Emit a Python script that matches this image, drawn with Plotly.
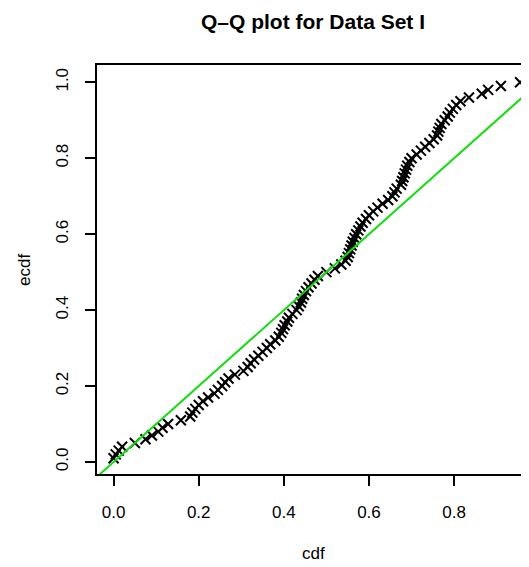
import plotly.graph_objects as go

# ecdf values (i/n) and the corresponding theoretical cdf values
ecdf_vals = [i / 100 for i in range(1, 101)]
cdf_vals = [
    0.000, 0.005, 0.012, 0.020, 0.050, 0.075, 0.090, 0.105, 0.115, 0.128,
    0.158, 0.180, 0.185, 0.192, 0.200, 0.210, 0.222, 0.237, 0.245, 0.255,
    0.262, 0.270, 0.285, 0.305, 0.315, 0.322, 0.330, 0.340, 0.350, 0.360,
    0.368, 0.380, 0.388, 0.394, 0.398, 0.402, 0.408, 0.412, 0.420, 0.430,
    0.435, 0.440, 0.443, 0.447, 0.452, 0.458, 0.465, 0.472, 0.480, 0.500,
    0.520, 0.535, 0.545, 0.550, 0.553, 0.556, 0.559, 0.562, 0.566, 0.570,
    0.575, 0.580, 0.585, 0.593, 0.600, 0.610, 0.620, 0.632, 0.645, 0.655,
    0.660, 0.665, 0.675, 0.678, 0.681, 0.684, 0.687, 0.690, 0.695, 0.700,
    0.712, 0.722, 0.732, 0.742, 0.752, 0.760, 0.763, 0.766, 0.770, 0.778,
    0.785, 0.790, 0.797, 0.805, 0.815, 0.835, 0.865, 0.880, 0.910, 0.955,
]

# reference line y = x
ref_line_x = [-0.1, 1.1]
ref_line_y = [-0.1, 1.1]

x_ticks = [0.0, 0.2, 0.4, 0.6, 0.8]
x_tick_labels = ["0.0", "0.2", "0.4", "0.6", "0.8"]
y_ticks = [0.0, 0.2, 0.4, 0.6, 0.8, 1.0]
y_tick_labels = ["0.0", "0.2", "0.4", "0.6", "0.8", "1.0"]

FONT = "Liberation Sans, Arial, Helvetica, sans-serif"

# page body has an 8px default margin; figure is sized to fill the rest
W, H = 521, 559
T, B = 57, 93
PLOT_H = H - T - B

fig = go.Figure()
fig.add_trace(go.Scatter(
    x=cdf_vals, y=ecdf_vals, mode="markers",
    marker=dict(symbol="x-thin-open", size=10, color="black",
                line=dict(color="black", width=2)),
    showlegend=False, hoverinfo="skip",
))
fig.add_trace(go.Scatter(
    x=ref_line_x, y=ref_line_y, mode="lines",
    line=dict(color="#11DD11", width=2),
    showlegend=False, hoverinfo="skip",
))

fig.update_layout(
    width=W, height=H,
    margin=dict(l=89, r=0, t=T, b=B),
    plot_bgcolor="white", paper_bgcolor="white",
    font=dict(family=FONT, size=17, color="black"),
    title=dict(text="<b>Q\u2013Q plot for Data Set I</b>", x=0.5, xref="paper",
               y=1 - 14 / H, yanchor="middle", yref="container",
               font=dict(family=FONT, size=21, color="black")),
    xaxis=dict(range=[-0.039, 0.976], tickvals=x_ticks, ticktext=x_tick_labels,
               showgrid=False, zeroline=False, showline=True, mirror=True,
               linecolor="black", linewidth=1.5, ticks="outside", ticklen=10,
               tickwidth=1.5, tickcolor="black", ticklabelstandoff=12,
               tickfont=dict(size=17)),
    yaxis=dict(range=[-0.0316, 1.0455], tickvals=y_ticks, ticktext=y_tick_labels,
               showgrid=False, zeroline=False, showline=True, mirror=False,
               linecolor="black", linewidth=1.5, ticks="outside", ticklen=10,
               tickwidth=1.5, tickcolor="black", tickangle=-90,
               ticklabelstandoff=10, tickfont=dict(size=17)),
    annotations=[
        dict(text="cdf", x=0.5, y=-(545 - 466) / PLOT_H, xref="paper", yref="paper",
             showarrow=False, xanchor="center", yanchor="middle",
             font=dict(size=17)),
        dict(text="ecdf", x=-(89 - 17) / 432, y=0.499, xref="paper", yref="paper",
             showarrow=False, xanchor="center", yanchor="middle",
             textangle=-90, font=dict(size=17)),
    ],
)

fig.write_html("out.html")
